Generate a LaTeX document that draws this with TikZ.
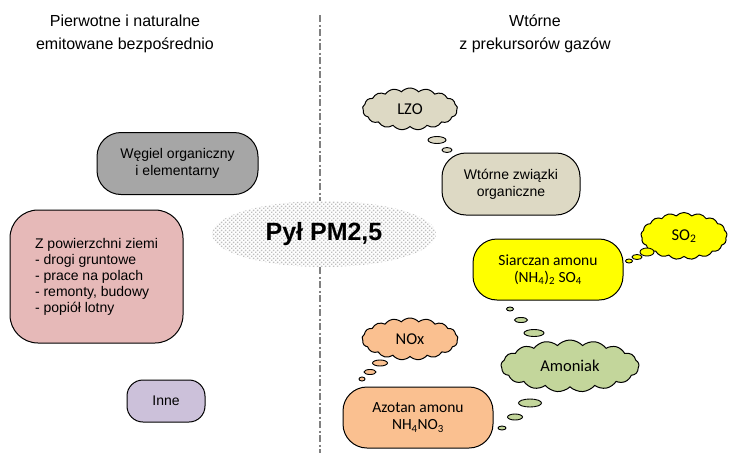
\documentclass[tikz,border=0pt]{standalone}
\usepackage{fontspec}
\setmainfont{Liberation Sans}
\newfontfamily\calib{Carlito}
\usetikzlibrary{shapes.symbols,shapes.geometric,patterns}

\definecolor{wegiel}{HTML}{A6A6A6}
\definecolor{ziemia}{HTML}{E6B9B8}
\definecolor{inne}{HTML}{CCC1DA}
\definecolor{organ}{HTML}{DDD9C4}
\definecolor{siarka}{HTML}{FFFF00}
\definecolor{amon}{HTML}{C3D69B}
\definecolor{azot}{HTML}{FAC090}

% gray dots of the PM2,5 ellipse
\pgfdeclarepatternformonly{pmdots}{\pgfpointorigin}{\pgfqpoint{4.4pt}{4.4pt}}{\pgfqpoint{4.4pt}{4.4pt}}{
  \pgfpathrectangle{\pgfqpoint{0pt}{0pt}}{\pgfqpoint{1.5pt}{1.5pt}}
  \pgfpathrectangle{\pgfqpoint{2.2pt}{2.2pt}}{\pgfqpoint{1.5pt}{1.5pt}}
  \pgfusepath{fill}}

\tikzset{
  box/.style={draw, line width=1pt, rounded corners=24pt, inner sep=0pt, align=center,
    font=\fontsize{14}{17}\selectfont},
  calibox/.style={box, font=\calib\fontsize{15.5}{17}\selectfont},
  puff/.style={cloud, draw, line width=1pt, cloud puffs=17, cloud puff arc=95,
    cloud ignores aspect, inner sep=0pt, font=\calib\fontsize{16.5}{18}\selectfont},
  bubble/.style={ellipse, draw, line width=0.9pt, inner sep=0pt},
  divider/.style={gray, line width=1.3pt, dash pattern=on 7pt off 2.5pt on 2pt off 2.5pt},
  title/.style={align=center, font=\fontsize{16}{23}\selectfont},
}

\begin{document}
\begin{tikzpicture}[x=1pt,y=-1pt]
\useasboundingbox (0,0) rectangle (729,453);
% headings
\node[title] (titleL) at (125,34) {Pierwotne i naturalne\\emitowane bezpośrednio};
\node[title] (titleR) at (535,34) {Wtórne\\z prekursorów gazów};
% divider
\coordinate (divTop) at (320,15);
\coordinate (divBot) at (320,453);
\draw[divider] (divTop) -- (divBot);
% centre
\node[ellipse, preaction={fill=white}, pattern=pmdots, pattern color=gray!50,
  minimum width=224pt, minimum height=66pt, font=\bfseries\fontsize{25}{28}\selectfont]
  (pm) at (324,234) {Pył PM2,5};
% primary sources
\node[box, fill=wegiel, minimum width=161pt, minimum height=62pt] (wegiel) at (177.5,163.5)
  {Węgiel organiczny\\i elementarny};
\node[box, fill=ziemia, rounded corners=28pt, minimum width=173pt, minimum height=133pt,
  align=left, font=\fontsize{14}{16}\selectfont] (ziemia) at (96.5,276.5)
  {Z powierzchni ziemi\\- drogi gruntowe\\- prace na polach\\- remonty, budowy\\- popiół lotny};
\node[box, fill=inne, rounded corners=16pt, minimum width=78pt, minimum height=42pt] (inne) at (166,401) {Inne};
% secondary: organic
\node[puff, fill=organ, minimum width=95pt, minimum height=42pt] (lzo) at (410,109) {LZO};
\node[bubble, fill=organ, minimum width=18pt, minimum height=7pt] (lzoA) at (437,140) {};
\node[bubble, fill=organ, minimum width=10pt, minimum height=5pt] (lzoB) at (447,150) {};
\node[box, fill=organ, minimum width=138pt, minimum height=62pt] (wtorne) at (511,184)
  {Wtórne związki\\organiczne};
% secondary: sulphate
\node[puff, fill=siarka, minimum width=86pt, minimum height=47pt] (so2) at (684,236) {SO\textsubscript{2}};
\node[bubble, fill=siarka, minimum width=14pt, minimum height=8pt] (so2A) at (647,252) {};
\node[bubble, fill=siarka, minimum width=10pt, minimum height=5pt] (so2B) at (637,257) {};
\node[bubble, fill=siarka, minimum width=7pt, minimum height=4pt] (so2C) at (629,261) {};
\node[calibox, fill=siarka, minimum width=150pt, minimum height=61pt] (siarczan) at (548,269.5)
  {Siarczan amonu\\(NH\textsubscript{4})\textsubscript{2} SO\textsubscript{4}};
% ammonia
\node[bubble, fill=amon, minimum width=7pt, minimum height=4pt] (amA) at (510,309) {};
\node[bubble, fill=amon, minimum width=13pt, minimum height=5pt] (amB) at (521,320) {};
\node[bubble, fill=amon, minimum width=20pt, minimum height=7pt] (amC) at (534,333) {};
\node[puff, fill=amon, minimum width=138pt, minimum height=52pt] (amoniak) at (570,366) {Amoniak};
\node[bubble, fill=amon, minimum width=23pt, minimum height=8pt] (amD) at (530,403) {};
\node[bubble, fill=amon, minimum width=15pt, minimum height=6pt] (amE) at (515,417) {};
\node[bubble, fill=amon, minimum width=8pt, minimum height=4pt] (amF) at (502,428) {};
% nitrate
\node[puff, fill=azot, minimum width=96pt, minimum height=42pt] (nox) at (410,339) {NOx};
\node[bubble, fill=azot, minimum width=15pt, minimum height=6pt] (noxA) at (380,363) {};
\node[bubble, fill=azot, minimum width=12pt, minimum height=5pt] (noxB) at (370,372) {};
\node[bubble, fill=azot, minimum width=6pt, minimum height=4pt] (noxC) at (362,379) {};
\node[calibox, fill=azot, minimum width=150pt, minimum height=61pt] (azotan) at (418,417.5)
  {Azotan amonu\\NH\textsubscript{4}NO\textsubscript{3}};
\end{tikzpicture}
\end{document}
